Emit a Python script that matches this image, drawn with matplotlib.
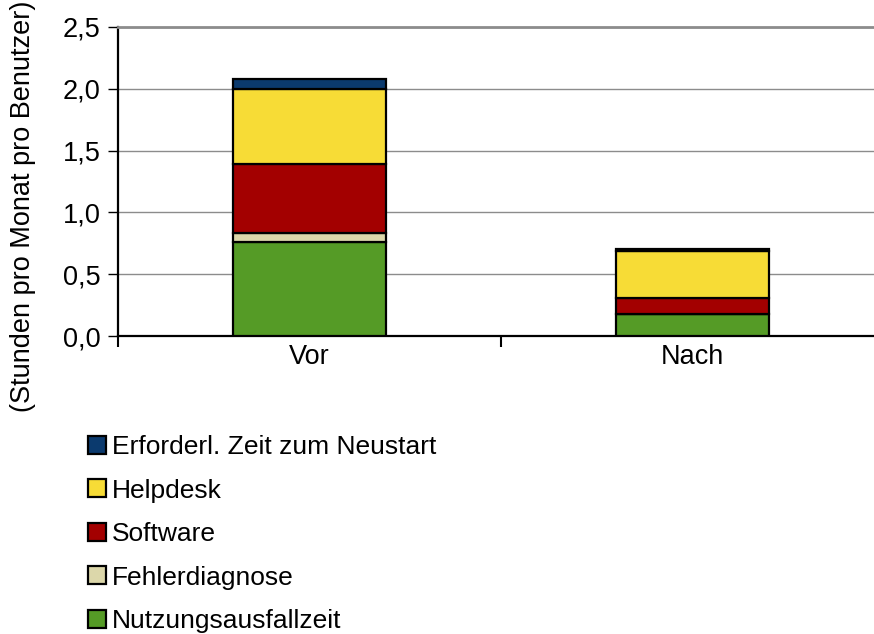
import matplotlib
matplotlib.use("Agg")
import matplotlib.pyplot as plt
import numpy as np

categories = ["Vor", "Nach"]
series_names = ["Nutzungsausfallzeit", "Fehlerdiagnose", "Software", "Helpdesk",
                "Erforderl. Zeit zum Neustart"]
nutzungsausfallzeit = [0.76, 0.18]
fehlerdiagnose = [0.07, 0.0]
software = [0.56, 0.13]
helpdesk = [0.61, 0.38]
neustart = [0.08, 0.01]
series_values = [nutzungsausfallzeit, fehlerdiagnose, software, helpdesk, neustart]
colors = ["#559b26", "#dcd7aa", "#a30000", "#f7dc36", "#0b3a6e"]
yticks = [0.0, 0.5, 1.0, 1.5, 2.0, 2.5]
ytick_labels = ["0,0", "0,5", "1,0", "1,5", "2,0", "2,5"]

plt.rcParams['font.family'] = ['Liberation Sans', 'DejaVu Sans']
fs = 19.5
lfs = 19

fig = plt.figure(figsize=(8.74, 6.34), dpi=100)
ax = fig.add_axes([118/874, 1-336/634, 766/874, 309/634])

x = np.arange(len(categories)) + 0.5
bottom = np.zeros(len(categories))
handles = []
for name, vals, c in zip(series_names, series_values, colors):
    vals = np.array(vals)
    b = ax.bar(x, vals, width=0.40, bottom=bottom, color=c, edgecolor="black",
               linewidth=1.6, label=name, zorder=3)
    handles.append(b)
    bottom += vals

ax.set_xlim(0, 2)
ax.set_ylim(0, 2.5)
ax.set_yticks(yticks)
ax.set_yticklabels(ytick_labels, fontsize=fs)
ax.yaxis.grid(True, color="#8c8c8c", linewidth=1.0, zorder=0)
ax.set_axisbelow(True)

ax.set_xticks([0, 1, 2])
ax.set_xticklabels([])
ax.set_xticks(x, minor=True)
ax.set_xticklabels(categories, minor=True, fontsize=fs)
ax.tick_params(axis="x", which="minor", length=0, pad=6)
ax.tick_params(axis="x", which="major", length=8, width=1.5, direction="out", color="black")
ax.tick_params(axis="y", direction="out", length=7.5, width=1.0, pad=5, color="black")

for s in ["left", "bottom"]:
    ax.spines[s].set_color("black")
    ax.spines[s].set_linewidth(1.6)
ax.spines["top"].set_color("#8c8c8c")
ax.spines["top"].set_linewidth(2.0)
ax.spines["right"].set_visible(False)

fig.text(23/874, 1-206/634, "(Stunden pro Monat pro Benutzer)", rotation=90,
         ha="center", va="center", fontsize=fs)

leg = fig.legend(handles[::-1], series_names[::-1], loc="upper left",
                 bbox_to_anchor=(88/874, 1-435/634), frameon=False, fontsize=lfs,
                 handlelength=0.68, handleheight=0.68, handletextpad=0.22,
                 labelspacing=0.74, borderpad=0, borderaxespad=0)
for p in leg.get_patches():
    p.set_linewidth(1.6)

fig.savefig("out.png", dpi=100)
